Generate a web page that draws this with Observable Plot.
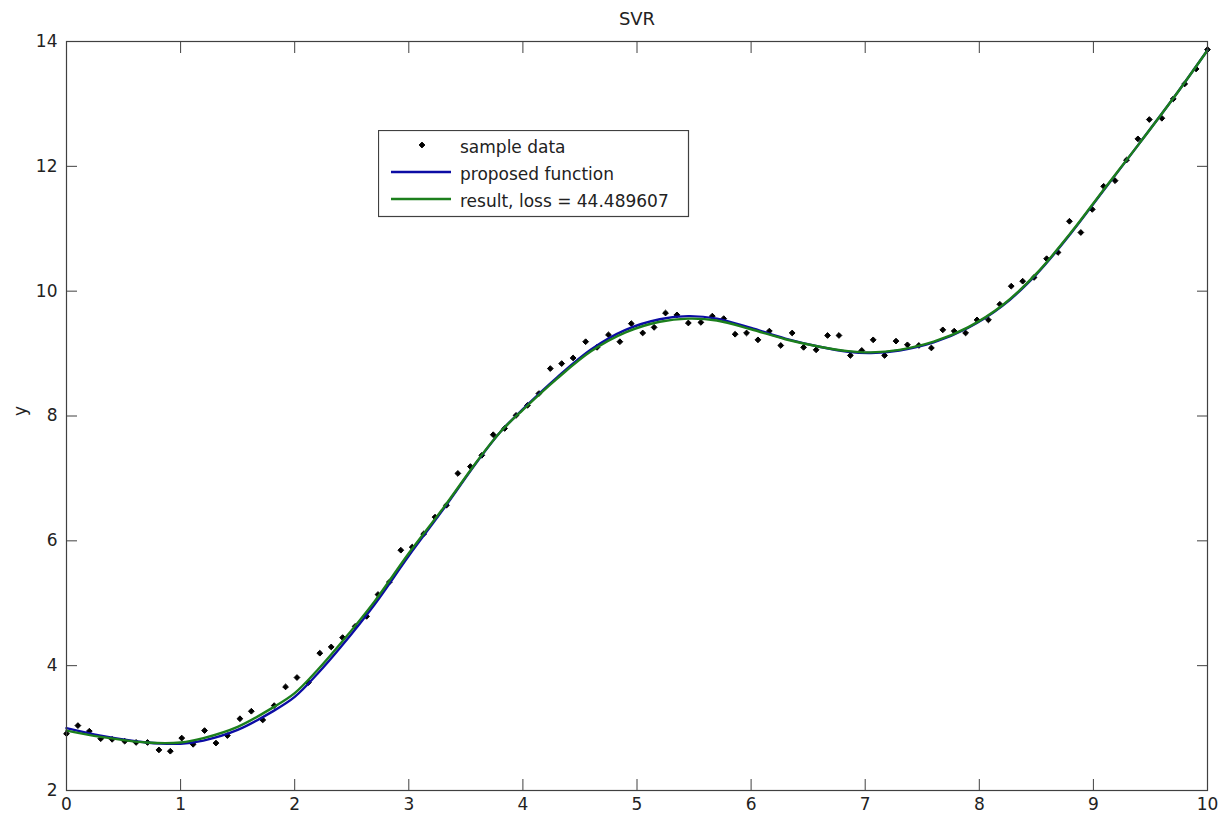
<!DOCTYPE html>
<html>
<head>
<meta charset="utf-8">
<script src="https://cdn.jsdelivr.net/npm/d3@7"></script>
<script src="https://cdn.jsdelivr.net/npm/@observablehq/plot@0.6"></script>
<style>
  html, body { margin: 0; padding: 0; background: #fff; }
  #wrap { position: relative; width: 1232px; height: 818px; font-family: "DejaVu Sans", sans-serif; }
  #legend { position: absolute; left: 378px; top: 130px; }
</style>
</head>
<body>
<div id="wrap"></div>
<script>
// ---- data ----
const titleText = "SVR";
const yLabel = "y";
const xTicks = [0, 1, 2, 3, 4, 5, 6, 7, 8, 9, 10];
const yTicks = [2, 4, 6, 8, 10, 12, 14];

const sampleX = [0.00, 0.10, 0.20, 0.30, 0.40, 0.51, 0.61, 0.71, 0.81, 0.91,
  1.01, 1.11, 1.21, 1.31, 1.41, 1.52, 1.62, 1.72, 1.82, 1.92,
  2.02, 2.12, 2.22, 2.32, 2.42, 2.53, 2.63, 2.73, 2.83, 2.93,
  3.03, 3.13, 3.23, 3.33, 3.43, 3.54, 3.64, 3.74, 3.84, 3.94,
  4.04, 4.14, 4.24, 4.34, 4.44, 4.55, 4.65, 4.75, 4.85, 4.95,
  5.05, 5.15, 5.25, 5.35, 5.45, 5.56, 5.66, 5.76, 5.86, 5.96,
  6.06, 6.16, 6.26, 6.36, 6.46, 6.57, 6.67, 6.77, 6.87, 6.97,
  7.07, 7.17, 7.27, 7.37, 7.47, 7.58, 7.68, 7.78, 7.88, 7.98,
  8.08, 8.18, 8.28, 8.38, 8.48, 8.59, 8.69, 8.79, 8.89, 8.99,
  9.09, 9.19, 9.29, 9.39, 9.49, 9.60, 9.70, 9.80, 9.90, 10.00];
const sampleY = [2.91, 3.04, 2.95, 2.83, 2.82, 2.79, 2.77, 2.77, 2.65, 2.63,
  2.84, 2.74, 2.96, 2.76, 2.88, 3.15, 3.27, 3.13, 3.36, 3.66,
  3.81, 3.73, 4.20, 4.30, 4.45, 4.63, 4.79, 5.14, 5.34, 5.85,
  5.90, 6.11, 6.38, 6.57, 7.08, 7.19, 7.37, 7.70, 7.80, 8.01,
  8.17, 8.36, 8.76, 8.84, 8.93, 9.19, 9.10, 9.30, 9.19, 9.48,
  9.33, 9.42, 9.65, 9.62, 9.49, 9.50, 9.60, 9.56, 9.31, 9.33,
  9.22, 9.36, 9.13, 9.33, 9.10, 9.06, 9.29, 9.29, 8.97, 9.05,
  9.22, 8.97, 9.20, 9.14, 9.13, 9.09, 9.38, 9.36, 9.33, 9.54,
  9.54, 9.79, 10.08, 10.16, 10.22, 10.52, 10.62, 11.12, 10.94, 11.31,
  11.68, 11.77, 12.10, 12.44, 12.75, 12.77, 13.08, 13.32, 13.56, 13.87];

const curveX = [0, 0.3, 0.7, 1.0, 1.2, 1.5, 1.8, 2.0, 2.2, 2.4, 2.7, 3.0, 3.3, 3.6, 3.8, 4.0,
  4.3, 4.6, 4.9, 5.2, 5.45, 5.7, 6.0, 6.3, 6.6, 6.85, 7.05, 7.3, 7.6, 7.9, 8.2, 8.5, 8.8,
  9.1, 9.4, 9.7, 10.0];
const proposedY = [3.00, 2.88, 2.77, 2.75, 2.80, 2.97, 3.26, 3.50, 3.87, 4.29, 4.98, 5.76, 6.50, 7.27, 7.74, 8.11,
  8.62, 9.07, 9.38, 9.55, 9.60, 9.56, 9.41, 9.24, 9.11, 9.03, 9.01, 9.05, 9.18, 9.41, 9.76, 10.27, 10.92,
  11.64, 12.36, 13.09, 13.86];
const resultY = [2.96, 2.86, 2.77, 2.77, 2.84, 3.02, 3.32, 3.56, 3.93, 4.35, 5.03, 5.80, 6.52, 7.28, 7.74, 8.10,
  8.60, 9.04, 9.34, 9.51, 9.56, 9.53, 9.39, 9.23, 9.11, 9.04, 9.02, 9.06, 9.19, 9.42, 9.77, 10.28, 10.93,
  11.65, 12.36, 13.09, 13.86];

const legendLabels = ["sample data", "proposed function", "result, loss = 44.489607"];
const colBlue = "#0c0ca4";
const colGreen = "#1c7f1c";
const axisColor = "#404040";

// ---- tables ----
const samples = sampleX.map((x, i) => ({x, y: sampleY[i]}));
const proposed = curveX.map((x, i) => ({x, y: proposedY[i]}));
const result = curveX.map((x, i) => ({x, y: resultY[i]}));

const chart = Plot.plot({
  width: 1232,
  height: 818,
  marginLeft: 66,
  marginRight: 25,
  marginTop: 41,
  marginBottom: 28,
  x: {domain: [0, 10], label: null},
  y: {domain: [2, 14], label: null},
  style: {fontFamily: "DejaVu Sans, sans-serif", fontSize: "17px", color: "#222", background: "white"},
  marks: [
    Plot.dot(samples, {x: "x", y: "y", symbol: "diamond2", r: 2.6, fill: "black", stroke: "black", strokeWidth: 1}),
    Plot.line(proposed, {x: "x", y: "y", stroke: colBlue, strokeWidth: 2.4, curve: "catmull-rom"}),
    Plot.line(result, {x: "x", y: "y", stroke: colGreen, strokeWidth: 2.4, curve: "catmull-rom"}),
    Plot.frame({stroke: axisColor, strokeWidth: 1.2}),
    // inward ticks on all four sides
    Plot.axisX({anchor: "bottom", ticks: xTicks, tickSize: -11, tickFormat: () => "", label: null, stroke: axisColor}),
    Plot.axisX({anchor: "top", ticks: xTicks, tickSize: -11, tickFormat: () => "", label: null, stroke: axisColor}),
    Plot.axisY({anchor: "left", ticks: yTicks, tickSize: -11, tickFormat: () => "", label: null, stroke: axisColor}),
    Plot.axisY({anchor: "right", ticks: yTicks, tickSize: -11, tickFormat: () => "", label: null, stroke: axisColor}),
    // tick labels
    Plot.axisX({anchor: "bottom", ticks: xTicks, tickSize: 0, tickPadding: 7, label: null, tickFormat: d => String(d)}),
    Plot.axisY({anchor: "left", ticks: yTicks, tickSize: 0, tickPadding: 9, label: null, tickFormat: d => String(d)}),
    // title and y label
    Plot.text([titleText], {text: d => d, frameAnchor: "top", dy: -22, fontSize: 18, lineAnchor: "middle", fill: "#222"}),
    Plot.text([yLabel], {text: d => d, frameAnchor: "left", dx: -46, rotate: -90, fontSize: 17, lineAnchor: "middle", fill: "#222"})
  ]
});

const wrap = document.getElementById("wrap");
wrap.appendChild(chart);

// ---- legend (inside the axes, top-left area) ----
const lg = d3.select(wrap).append("svg")
  .attr("id", "legend")
  .attr("width", 312)
  .attr("height", 88)
  .style("font-family", "DejaVu Sans, sans-serif")
  .style("font-size", "17px");
lg.append("rect").attr("x", 0.5).attr("y", 0.5).attr("width", 310).attr("height", 86)
  .attr("fill", "white").attr("stroke", axisColor).attr("stroke-width", 1.2);
const rowsY = [16, 42, 69];
// sample data marker
lg.append("path").attr("transform", `translate(44,${rowsY[0] - 1})`)
  .attr("d", d3.symbol(d3.symbolDiamond2, Math.PI * 2.6 * 2.6)())
  .attr("fill", "black").attr("stroke", "black");
lg.append("line").attr("x1", 13).attr("x2", 73).attr("y1", rowsY[1]).attr("y2", rowsY[1])
  .attr("stroke", colBlue).attr("stroke-width", 2.4);
lg.append("line").attr("x1", 13).attr("x2", 73).attr("y1", rowsY[2]).attr("y2", rowsY[2])
  .attr("stroke", colGreen).attr("stroke-width", 2.4);
legendLabels.forEach((t, i) => {
  lg.append("text").attr("x", 82).attr("y", rowsY[i] + (i === 0 ? 1 : 2)).attr("dy", "0.35em")
    .attr("fill", "#222").text(t);
});
</script>
</body>
</html>
